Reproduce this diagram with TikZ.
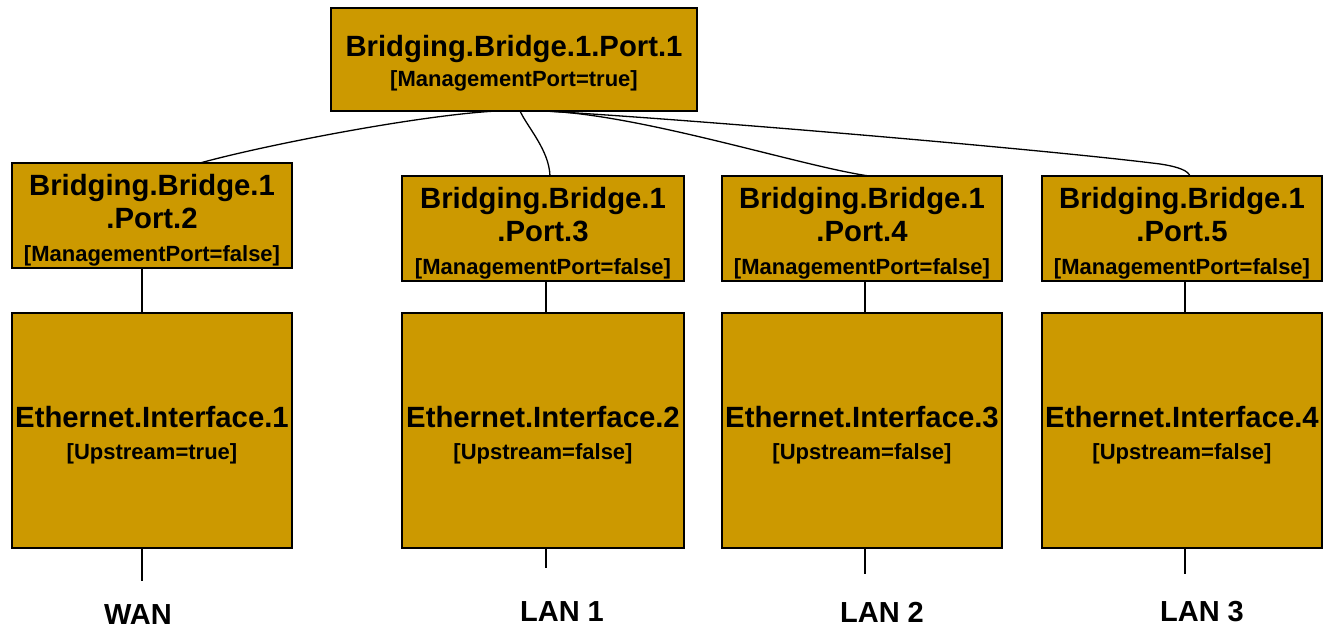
\documentclass[tikz,border=0pt]{standalone}
\usepackage{fontspec}
\setmainfont{Liberation Sans}
\usetikzlibrary{calc}
\definecolor{boxfill}{RGB}{204,153,0}
\newcommand{\tfont}{\fontsize{29.3}{33}\selectfont}
\newcommand{\sfont}{\fontsize{22}{33}\selectfont}
\newcommand{\lift}[1]{\rule{0pt}{#1}}
\begin{document}
\begin{tikzpicture}[x=1pt,y=-1pt,
  box/.style={draw=black, fill=boxfill, line width=1.3pt, inner sep=0pt, outer sep=0pt, align=center, font=\bfseries\fontsize{22}{33}\selectfont},
  portbox/.style={box, minimum width=280pt, minimum height=105pt},
  ethbox/.style={box, minimum width=280pt, minimum height=235pt},
  link/.style={draw=black, line width=1.3pt},
  netlabel/.style={font=\bfseries\fontsize{29}{33}\selectfont, inner sep=0pt}]
\useasboundingbox (0,0) rectangle (1334,631);

\node[box, minimum width=366pt, minimum height=103pt] (top) at (514,59.5)
  {\tfont\lift{28pt}Bridging.Bridge.1.Port.1\\[-3pt] \sfont [ManagementPort=true]};

\node[portbox] (p2) at (152,215.5) {\tfont\lift{31pt}Bridging.Bridge.1\\ \tfont .Port.2\\ \sfont [ManagementPort=false]};
\node[portbox, minimum width=282pt] (p3) at (543,228.5) {\tfont\lift{31pt}Bridging.Bridge.1\\ \tfont .Port.3\\ \sfont [ManagementPort=false]};
\node[portbox] (p4) at (862,228.5) {\tfont\lift{31pt}Bridging.Bridge.1\\ \tfont .Port.4\\ \sfont [ManagementPort=false]};
\node[portbox] (p5) at (1182,228.5) {\tfont\lift{31pt}Bridging.Bridge.1\\ \tfont .Port.5\\ \sfont [ManagementPort=false]};

\node[ethbox] (e1) at (152,430.5) {\tfont\lift{31pt}Ethernet.Interface.1\\[-1pt] \sfont [Upstream=true]};
\node[ethbox, minimum width=282pt] (e2) at (543,430.5) {\tfont\lift{31pt}Ethernet.Interface.2\\[-1pt] \sfont [Upstream=false]};
\node[ethbox] (e3) at (862,430.5) {\tfont\lift{31pt}Ethernet.Interface.3\\[-1pt] \sfont [Upstream=false]};
\node[ethbox] (e4) at (1182,430.5) {\tfont\lift{31pt}Ethernet.Interface.4\\[-1pt] \sfont [Upstream=false]};

\node[netlabel] (wan) at (138,615) {WAN};
\node[netlabel] (lan1) at (562,612) {LAN 1};
\node[netlabel] (lan2) at (882,612) {LAN 2};
\node[netlabel] (lan3) at (1202,612) {LAN 3};

\coordinate (wanend) at (142,581);
\coordinate (lan1end) at (546,568);
\coordinate (lan2end) at (865,574);
\coordinate (lan3end) at (1185,574);

% top to ports
\draw[link] ($(top.south)+(-17,0)$) .. controls (420,115) and (265,145) .. ($(p2.north)+(48,0)$);
\draw[link] ($(top.south)+(6,0)$) .. controls (528,128) and (549,150) .. ($(p3.north)+(7,0)$);
\draw[link] ($(top.south)+(30,0)$) .. controls (640,114) and (800,166) .. ($(p4.north)+(7,0)$);
\draw[link] ($(top.south)+(30,0)$) .. controls (700,120) and (1050,150) .. (1160,164) .. controls (1180,167) and (1188,171) .. ($(p5.north)+(8,0)$);

% ports to interfaces
\draw[link] ($(p2.south)+(-10,0)$) -- ($(e1.north)+(-10,0)$);
\draw[link] ($(p3.south)+(3,0)$) -- ($(e2.north)+(3,0)$);
\draw[link] ($(p4.south)+(3,0)$) -- ($(e3.north)+(3,0)$);
\draw[link] ($(p5.south)+(3,0)$) -- ($(e4.north)+(3,0)$);

% interfaces to networks
\draw[link] ($(e1.south)+(-10,0)$) -- (wanend);
\draw[link] ($(e2.south)+(3,0)$) -- (lan1end);
\draw[link] ($(e3.south)+(3,0)$) -- (lan2end);
\draw[link] ($(e4.south)+(3,0)$) -- (lan3end);
\end{tikzpicture}
\end{document}
